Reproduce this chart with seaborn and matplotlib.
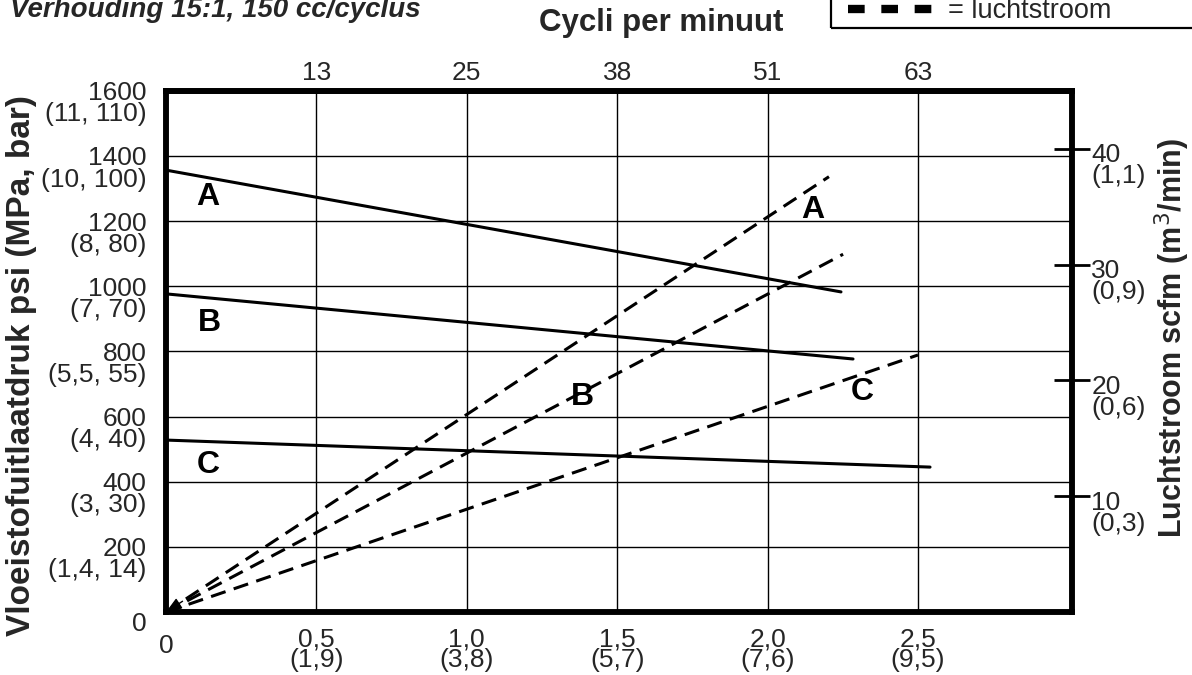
import numpy as np
import pandas as pd
import matplotlib
matplotlib.use("Agg")
import matplotlib.pyplot as plt
import seaborn as sns
from matplotlib.transforms import ScaledTranslation
from matplotlib.patches import Rectangle
from matplotlib.lines import Line2D

# ---------------- data ----------------
curves = ["A", "B", "C"]
# fluid outlet pressure (psi) vs flow (bottom axis)
pressure_x = [[0.0, 2.244], [0.0, 2.284], [0.0, 2.54]]
pressure_psi = [[1357, 983], [977, 777], [528, 445]]
# air consumption (scfm) vs flow
air_x = [[0.0, 2.204], [0.0, 2.251], [0.0, 2.50]]
air_scfm = [[0.0, 37.6], [0.0, 30.9], [0.0, 22.2]]

flow_ticks = [0, 0.5, 1.0, 1.5, 2.0, 2.5]
flow_labels = ["0", "0,5\n(1,9)", "1,0\n(3,8)", "1,5\n(5,7)", "2,0\n(7,6)", "2,5\n(9,5)"]
cycle_ticks = [0.5, 1.0, 1.5, 2.0, 2.5]
cycle_labels = ["13", "25", "38", "51", "63"]
psi_ticks = [0, 200, 400, 600, 800, 1000, 1200, 1400, 1600]
psi_labels = ["0", "200\n(1,4, 14)", "400\n(3, 30)", "600\n(4, 40)", "800\n(5,5, 55)",
              "1000\n(7, 70)", "1200\n(8, 80)", "1400\n(10, 100)", "1600\n(11, 110)"]
scfm_ticks = [10, 20, 30, 40]
scfm_labels = ["10\n(0,3)", "20\n(0,6)", "30\n(0,9)", "40\n(1,1)"]

title = "Verhouding 15:1, 150 cc/cyclus"
top_label = "Cycli per minuut"
left_label = "Vloeistofuitlaatdruk psi (MPa, bar)"
right_label = "Luchtstroom scfm (m$^3$/min)"
legend_label = "= luchtstroom"

# long-format tables
p_rows = []
for c, xs, ys in zip(curves, pressure_x, pressure_psi):
    for x, y in zip(xs, ys):
        p_rows.append({"curve": c, "flow": x, "psi": y})
df_p = pd.DataFrame(p_rows)
a_rows = []
for c, xs, ys in zip(curves, air_x, air_scfm):
    for x, y in zip(xs, ys):
        a_rows.append({"curve": c, "flow": x, "scfm": y})
df_a = pd.DataFrame(a_rows)

# ---------------- style ----------------
sns.set_theme(style="white")
plt.rcParams["font.family"] = ["Liberation Sans", "DejaVu Sans"]
plt.rcParams["axes.edgecolor"] = "black"

W, H = 1192, 675
fig = plt.figure(figsize=(W / 100, H / 100), dpi=100)
L, R, B, T = 166, 1072, 612, 91
ax = fig.add_axes([L / W, 1 - B / H, (R - L) / W, (B - T) / H])
ax2 = ax.twinx()

SPINE = 4.0
TICKFS = 19

# pressure lines (solid)
sns.lineplot(data=df_p, x="flow", y="psi", units="curve", estimator=None,
             color="black", lw=2.2, ax=ax, legend=False)
# air lines (dashed)
sns.lineplot(data=df_a, x="flow", y="scfm", units="curve", estimator=None,
             color="black", lw=2.2, ax=ax2, legend=False)
for ln in ax2.get_lines():
    ln.set_dashes((5.0, 2.8))

ax.set_xlim(0, 3.012)
ax.set_ylim(0, 1600)
ax2.set_ylim(0, 45)

# grid
ax.set_xticks(flow_ticks)
ax.set_yticks(psi_ticks)
ax.grid(True, color="black", lw=1.0)
ax.set_axisbelow(True)

# bottom tick labels
ax.set_xticklabels(flow_labels, linespacing=0.85, fontsize=TICKFS,
                   family=["Liberation Sans Narrow", "Liberation Sans"])
ax.tick_params(axis="x", length=0, pad=11)
xl = ax.get_xticklabels()
xl[0].set_transform(xl[0].get_transform() + ScaledTranslation(0, -5 / 72, fig.dpi_scale_trans))

# left tick labels
ax.set_yticklabels(psi_labels, linespacing=0.85, fontsize=TICKFS)
ax.tick_params(axis="y", length=0, pad=14)
for i, lab in enumerate(ax.get_yticklabels()):
    lab.set_verticalalignment("top")
    lab.set_multialignment("right")
    if i > 0:
        lab.set_transform(lab.get_transform() + ScaledTranslation(0, 7 / 72, fig.dpi_scale_trans))

# right tick labels
ax2.set_yticks(scfm_ticks)
ax2.set_yticklabels(scfm_labels, linespacing=0.85, fontsize=TICKFS)
ax2.tick_params(axis="y", direction="inout", length=26, width=2.0, color="black", pad=1)
for lab in ax2.get_yticklabels():
    lab.set_verticalalignment("top")
    lab.set_multialignment("left")
    lab.set_transform(lab.get_transform() + ScaledTranslation(0, 4 / 72, fig.dpi_scale_trans))
ax2.set_ylabel("")
ax.set_xlabel("")
ax.set_ylabel("")

# top axis (cycles per minute)
top = ax.secondary_xaxis("top")
top.set_xticks(cycle_ticks, labels=cycle_labels)
top.tick_params(length=0, pad=4, labelsize=TICKFS)
for sp in top.spines.values():
    sp.set_linewidth(SPINE)

for a in (ax, ax2):
    for sp in a.spines.values():
        sp.set_visible(True)
        sp.set_linewidth(SPINE)
        sp.set_color("black")

# arrowhead at origin
ax.annotate("", xy=(0, 0), xytext=(0.055, 33),
            arrowprops=dict(arrowstyle="-|>,head_length=0.8,head_width=0.3",
                            color="black", lw=1.0, shrinkA=0, shrinkB=0))

# curve letters
letter_kw = dict(fontsize=23, fontweight="bold", ha="center", va="center", color="black")
for c, (x, y) in zip(curves, [(0.14, 1275), (0.146, 888), (0.14, 451)]):
    ax.text(x, y, c, **letter_kw)
for c, (x, y) in zip(curves, [(2.151, 1235), (1.386, 660), (2.314, 676)]):
    ax.text(x, y, c, **letter_kw)

# figure texts
fig.text(10 / W, 1 - 17 / H, title, fontsize=20, fontweight="bold", fontstyle="italic",
         ha="left", va="baseline")
fig.text(661 / W, 1 - 23 / H, top_label, fontsize=22.5, fontweight="bold",
         ha="center", va="center")
fig.text(22 / W, 1 - 366 / H, left_label, fontsize=24, fontweight="bold",
         rotation=90, ha="center", va="center")
fig.text(1172 / W, 1 - 338 / H, right_label, fontsize=22, fontweight="bold",
         rotation=90, ha="center", va="center")

# partial legend box at top right
fig.add_artist(Rectangle((831 / W, 1 - 28 / H), 0.5, 0.2, transform=fig.transFigure,
                         fill=False, edgecolor="black", lw=1.6, clip_on=False))
leg_line = Line2D([848 / W, 934 / W], [1 - 9 / H, 1 - 9 / H], transform=fig.transFigure,
                  color="black", lw=6)
leg_line.set_dashes((2.0, 2.0))
fig.add_artist(leg_line)
fig.text(948 / W, 1 - 11 / H, legend_label, fontsize=19.5, ha="left", va="center")

fig.savefig("out.png", dpi=100)
